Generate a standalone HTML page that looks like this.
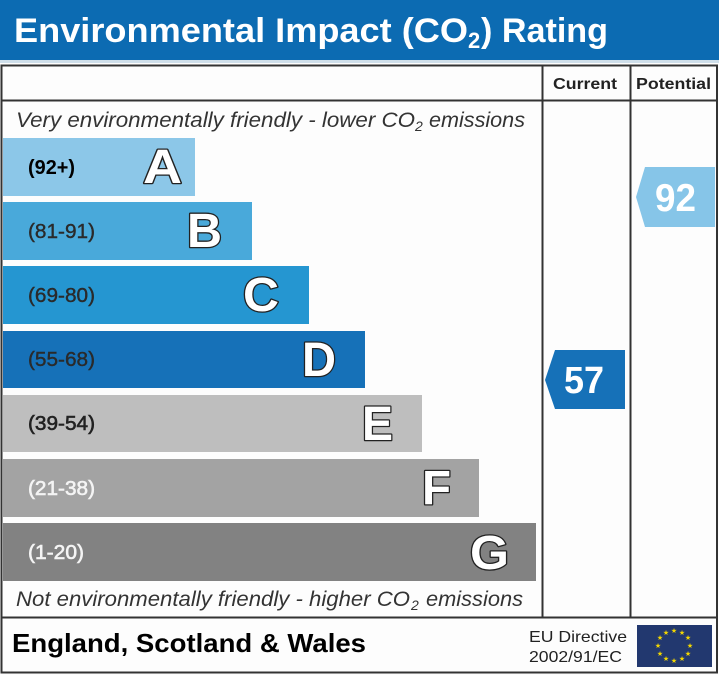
<!DOCTYPE html>
<html><head><meta charset="utf-8"><style>
html,body{margin:0;padding:0;background:#fff;}
svg{display:block;}
</style></head><body>
<svg width="719" height="675" viewBox="0 0 719 675" xmlns="http://www.w3.org/2000/svg" font-family="'Liberation Sans', Arial, sans-serif">
<rect x="0" y="0" width="719" height="675" fill="#fdfdfd"/>
<!-- header -->
<rect x="0" y="0" width="719" height="60" fill="#0c6bb2"/>
<rect x="0" y="60" width="719" height="3" fill="#cfdfea"/>
<text x="14" y="42" font-size="34" font-weight="bold" fill="#fff" textLength="454" lengthAdjust="spacingAndGlyphs">Environmental Impact (CO</text>
<text x="468" y="48" font-size="22" font-weight="bold" fill="#fff">2</text>
<text x="481" y="42" font-size="34" font-weight="bold" fill="#fff" textLength="127" lengthAdjust="spacingAndGlyphs">) Rating</text>

<!-- frame -->
<g stroke="#333" stroke-width="2" fill="none">
<rect x="1.5" y="65.5" width="715.5" height="607"/>
<line x1="1.5" y1="100.5" x2="717" y2="100.5"/>
<line x1="542.5" y1="65.5" x2="542.5" y2="617"/>
<line x1="630.5" y1="65.5" x2="630.5" y2="617"/>
<line x1="1.5" y1="617.5" x2="717" y2="617.5"/>
</g>
<text x="553" y="89" font-size="16" font-weight="bold" fill="#222" textLength="64" lengthAdjust="spacingAndGlyphs">Current</text>
<text x="636" y="89" font-size="16" font-weight="bold" fill="#222" textLength="75" lengthAdjust="spacingAndGlyphs">Potential</text>

<text x="16" y="127" font-size="21" font-style="italic" fill="#333" textLength="399" lengthAdjust="spacingAndGlyphs">Very environmentally friendly - lower CO</text>
<text x="415" y="131" font-size="14" font-style="italic" fill="#333">2</text>
<text x="429" y="127" font-size="21" font-style="italic" fill="#333" textLength="96" lengthAdjust="spacingAndGlyphs">emissions</text>

<!-- bars -->
<rect x="3" y="138" width="192" height="58" fill="#8cc7e8"/>
<rect x="3" y="202" width="249" height="58" fill="#49a9da"/>
<rect x="3" y="266" width="306" height="58" fill="#2596d1"/>
<rect x="3" y="331" width="362" height="57" fill="#1671b8"/>
<rect x="3" y="395" width="419" height="57" fill="#bebebe"/>
<rect x="3" y="459" width="476" height="58" fill="#a3a3a3"/>
<rect x="3" y="523" width="533" height="58" fill="#828282"/>

<g font-size="20">
<text x="28" y="174" font-weight="bold" fill="#000" textLength="47" lengthAdjust="spacingAndGlyphs">(92+)</text>
<text x="28" y="238" fill="#2a2a2a" stroke="#2a2a2a" stroke-width="0.4" textLength="67" lengthAdjust="spacingAndGlyphs">(81-91)</text>
<text x="28" y="302" fill="#2a2a2a" stroke="#2a2a2a" stroke-width="0.4" textLength="67" lengthAdjust="spacingAndGlyphs">(69-80)</text>
<text x="28" y="366" fill="#2a2a2a" stroke="#2a2a2a" stroke-width="0.4" textLength="67" lengthAdjust="spacingAndGlyphs">(55-68)</text>
<text x="28" y="430" fill="#222" stroke="#222" stroke-width="0.6" textLength="67" lengthAdjust="spacingAndGlyphs">(39-54)</text>
<text x="28" y="495" fill="#f4f4f4" stroke="#f4f4f4" stroke-width="0.6" textLength="67" lengthAdjust="spacingAndGlyphs">(21-38)</text>
<text x="28" y="559" fill="#f4f4f4" stroke="#f4f4f4" stroke-width="0.6" textLength="56" lengthAdjust="spacingAndGlyphs">(1-20)</text>
</g>

<g font-size="48" font-weight="bold" fill="#fff" stroke="#222" stroke-width="2.6" paint-order="stroke" stroke-linejoin="round">
<text x="143" y="183" textLength="39" lengthAdjust="spacingAndGlyphs">A</text>
<text x="187" y="247" textLength="35" lengthAdjust="spacingAndGlyphs">B</text>
<text x="243" y="311" textLength="36" lengthAdjust="spacingAndGlyphs">C</text>
<text x="302" y="376" textLength="34" lengthAdjust="spacingAndGlyphs">D</text>
<text x="362" y="440" textLength="31" lengthAdjust="spacingAndGlyphs">E</text>
<text x="422" y="504" textLength="29" lengthAdjust="spacingAndGlyphs">F</text>
<text x="470" y="569" textLength="39" lengthAdjust="spacingAndGlyphs">G</text>
</g>

<text x="16" y="606" font-size="21" font-style="italic" fill="#333" textLength="394" lengthAdjust="spacingAndGlyphs">Not environmentally friendly - higher CO</text>
<text x="411" y="610" font-size="14" font-style="italic" fill="#333">2</text>
<text x="426" y="606" font-size="21" font-style="italic" fill="#333" textLength="97" lengthAdjust="spacingAndGlyphs">emissions</text>

<!-- arrows -->
<polygon points="555,350 625,350 625,409 555,409 545,380" fill="#1671b8"/>
<text x="564" y="393" font-size="38" font-weight="bold" fill="#fff" textLength="40" lengthAdjust="spacingAndGlyphs">57</text>
<polygon points="645,167 715,167 715,227 645,227 636,197" fill="#86c5e8"/>
<text x="655" y="211" font-size="39" font-weight="bold" fill="#fff" textLength="41" lengthAdjust="spacingAndGlyphs">92</text>

<!-- footer -->
<text x="12" y="652" font-size="26" font-weight="bold" fill="#000" textLength="354" lengthAdjust="spacingAndGlyphs">England, Scotland &amp; Wales</text>
<text x="529" y="642" font-size="16" fill="#222" textLength="98" lengthAdjust="spacingAndGlyphs">EU Directive</text>
<text x="529" y="662" font-size="16" fill="#222" textLength="93" lengthAdjust="spacingAndGlyphs">2002/91/EC</text>
<rect x="637" y="625" width="75" height="42" fill="#22386f"/>
<g fill="#f2d600" font-size="7" text-anchor="middle">
<text x="674" y="633">★</text>
<text x="682" y="635">★</text>
<text x="688" y="640">★</text>
<text x="690" y="648">★</text>
<text x="688" y="656">★</text>
<text x="682" y="661">★</text>
<text x="674" y="663">★</text>
<text x="666" y="661">★</text>
<text x="660" y="656">★</text>
<text x="658" y="648">★</text>
<text x="660" y="640">★</text>
<text x="666" y="635">★</text>
</g>
</svg>
</body></html>
